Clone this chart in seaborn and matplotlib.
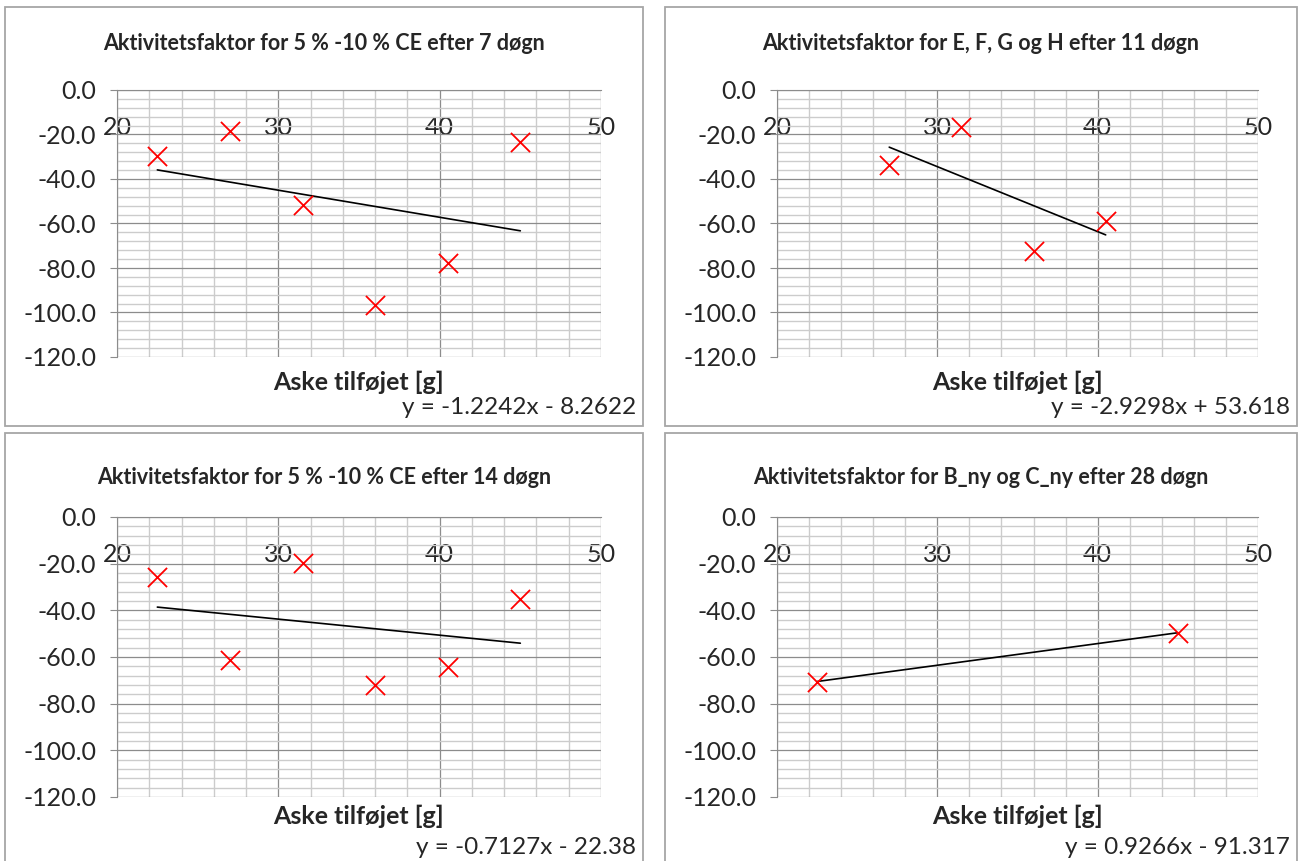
import numpy as np
import matplotlib
matplotlib.use("Agg")
import matplotlib.pyplot as plt
import seaborn as sns
from matplotlib.patches import Rectangle
from matplotlib.ticker import MultipleLocator, FormatStrFormatter

## Data
x_7 = [22.5, 27.0, 31.5, 36.0, 40.5, 45.0]
y_7 = [-29.7, -18.4, -51.7, -96.6, -77.8, -23.4]

x_11 = [27.0, 31.5, 36.0, 40.5]
y_11 = [-33.7, -16.6, -72.4, -58.9]

x_14 = [22.5, 27.0, 31.5, 36.0, 40.5, 45.0]
y_14 = [-25.7, -61.3, -19.7, -72.0, -64.3, -35.1]

x_28 = [22.5, 45.0]
y_28 = [-70.5, -49.6]

titles = [
    "Aktivitetsfaktor for 5 % -10 % CE efter 7 døgn",
    "Aktivitetsfaktor for E, F, G og H efter 11 døgn",
    "Aktivitetsfaktor for 5 % -10 % CE efter 14 døgn",
    "Aktivitetsfaktor for B_ny og C_ny efter 28 døgn",
]
equations = [
    "y = -1.2242x - 8.2622",
    "y = -2.9298x + 53.618",
    "y = -0.7127x - 22.38",
    "y = 0.9266x - 91.317",
]
x_label = "Aske tilføjet [g]"

sns.set_style("white")
plt.rcParams['font.family'] = ['Lato', 'DejaVu Sans']

W, H = 1300, 861
fig = plt.figure(figsize=(W / 100, H / 100), dpi=100)


def fx(px):
    return px / W


def fy(py):
    return 1 - py / H


# panel boxes (pixels): left, top, right, bottom
boxes = [(5, 7, 643, 426), (665, 7, 1297, 426),
         (5, 433, 643, 870), (665, 433, 1297, 870)]
# plot areas (pixels): left, top, right, bottom
areas = [(117, 90, 601, 357), (777, 90, 1258, 357),
         (117, 517, 601, 797), (777, 517, 1258, 797)]
series = [(x_7, y_7), (x_11, y_11), (x_14, y_14), (x_28, y_28)]

for i in range(4):
    bl, bt, br, bb = boxes[i]
    fig.patches.append(Rectangle((fx(bl), fy(bb)), fx(br - bl), (bb - bt) / H,
                                 transform=fig.transFigure, fill=False,
                                 edgecolor='#a6a6a6', linewidth=1.3))
    al, at, ar, ab = areas[i]
    ax = fig.add_axes([fx(al), fy(ab), fx(ar - al), (ab - at) / H])
    xs, ys = series[i]

    ax.set_xlim(20, 50)
    ax.set_ylim(-120, 0)
    ax.xaxis.set_major_locator(MultipleLocator(10))
    ax.xaxis.set_minor_locator(MultipleLocator(2))
    ax.yaxis.set_major_locator(MultipleLocator(20))
    ax.yaxis.set_minor_locator(MultipleLocator(4))
    ax.yaxis.set_major_formatter(FormatStrFormatter('%.1f'))
    ax.grid(which='major', color='#8c8c8c', linewidth=0.9)
    ax.grid(which='minor', color='#cccccc', linewidth=1.0)
    ax.set_axisbelow(True)

    # Excel style: horizontal axis crosses at y = 0
    ax.spines['bottom'].set_position(('data', 0))
    ax.spines['bottom'].set_color('#8c8c8c')
    ax.spines['left'].set_color('#8c8c8c')
    ax.spines['top'].set_visible(False)
    ax.spines['right'].set_visible(False)
    ax.tick_params(axis='x', which='both', length=0, pad=19, labelsize=18)
    ax.tick_params(axis='y', which='major', length=5, color='#8c8c8c',
                   pad=10, labelsize=18, left=True)
    ax.tick_params(axis='y', which='minor', length=0)

    sns.regplot(x=np.array(xs), y=np.array(ys), ax=ax, ci=None, scatter=False,
                truncate=True, line_kws=dict(color='black', linewidth=1.2))
    sns.scatterplot(x=np.array(xs), y=np.array(ys), ax=ax, marker='x',
                    color='#ff0000', s=190, linewidth=1.3, zorder=5)
    ax.set_xlabel("")
    ax.set_ylabel("")

    fig.text(fx((bl + br) / 2), fy(bt + 37 if i < 2 else bt + 44), titles[i],
             ha='center', va='center', fontsize=15.5, fontweight='bold')
    fig.text(fx((al + ar) / 2), fy(ab + 25 if i < 2 else ab + 19), x_label,
             ha='center', va='center', fontsize=18, fontweight='bold')
    fig.text(fx(br - 7), fy(ab + 51), equations[i],
             ha='right', va='center', fontsize=17.5)

fig.savefig("out.png", dpi=100)
